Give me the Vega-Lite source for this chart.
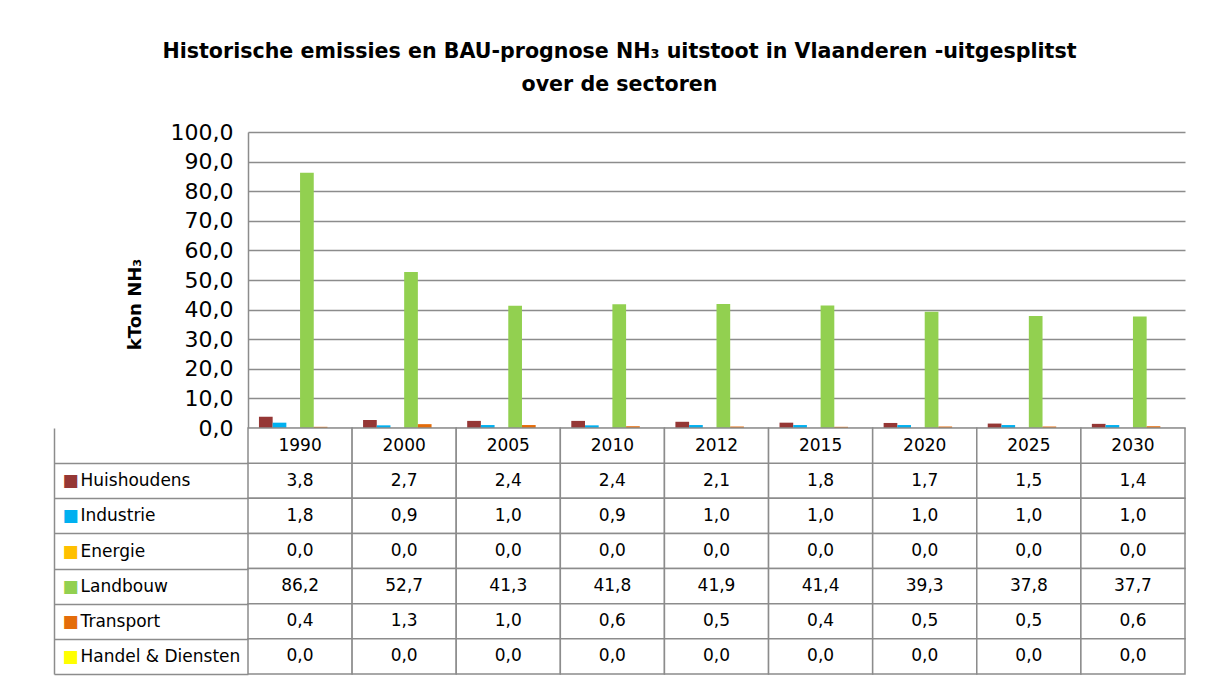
{
  "$schema": "https://vega.github.io/schema/vega-lite/v6.json",
  "padding": {"left": 53, "top": 42, "right": 15, "bottom": 3},
  "background": "white",
  "bounds": "flush",
  "config": {
    "locale": {"number": {"decimal": ",", "thousands": ".", "grouping": [3], "currency": ["€", ""]}},
    "font": "DejaVu Sans",
    "view": {"stroke": null},
    "concat": {"spacing": 0}
  },
  "title": {
    "text": ["Historische emissies en BAU-prognose NH₃ uitstoot in Vlaanderen -uitgesplitst", "over de sectoren"],
    "fontSize": 20.6, "fontWeight": "bold", "font": "DejaVu Sans", "color": "#000000",
    "anchor": "middle", "offset": 25, "lineHeight": 33
  },
  "data": {"values": [
    {"year": "1990", "sector": "Huishoudens", "value": 3.8},
    {"year": "2000", "sector": "Huishoudens", "value": 2.7},
    {"year": "2005", "sector": "Huishoudens", "value": 2.4},
    {"year": "2010", "sector": "Huishoudens", "value": 2.4},
    {"year": "2012", "sector": "Huishoudens", "value": 2.1},
    {"year": "2015", "sector": "Huishoudens", "value": 1.8},
    {"year": "2020", "sector": "Huishoudens", "value": 1.7},
    {"year": "2025", "sector": "Huishoudens", "value": 1.5},
    {"year": "2030", "sector": "Huishoudens", "value": 1.4},
    {"year": "1990", "sector": "Industrie", "value": 1.8},
    {"year": "2000", "sector": "Industrie", "value": 0.9},
    {"year": "2005", "sector": "Industrie", "value": 1.0},
    {"year": "2010", "sector": "Industrie", "value": 0.9},
    {"year": "2012", "sector": "Industrie", "value": 1.0},
    {"year": "2015", "sector": "Industrie", "value": 1.0},
    {"year": "2020", "sector": "Industrie", "value": 1.0},
    {"year": "2025", "sector": "Industrie", "value": 1.0},
    {"year": "2030", "sector": "Industrie", "value": 1.0},
    {"year": "1990", "sector": "Energie", "value": 0.0},
    {"year": "2000", "sector": "Energie", "value": 0.0},
    {"year": "2005", "sector": "Energie", "value": 0.0},
    {"year": "2010", "sector": "Energie", "value": 0.0},
    {"year": "2012", "sector": "Energie", "value": 0.0},
    {"year": "2015", "sector": "Energie", "value": 0.0},
    {"year": "2020", "sector": "Energie", "value": 0.0},
    {"year": "2025", "sector": "Energie", "value": 0.0},
    {"year": "2030", "sector": "Energie", "value": 0.0},
    {"year": "1990", "sector": "Landbouw", "value": 86.2},
    {"year": "2000", "sector": "Landbouw", "value": 52.7},
    {"year": "2005", "sector": "Landbouw", "value": 41.3},
    {"year": "2010", "sector": "Landbouw", "value": 41.8},
    {"year": "2012", "sector": "Landbouw", "value": 41.9},
    {"year": "2015", "sector": "Landbouw", "value": 41.4},
    {"year": "2020", "sector": "Landbouw", "value": 39.3},
    {"year": "2025", "sector": "Landbouw", "value": 37.8},
    {"year": "2030", "sector": "Landbouw", "value": 37.7},
    {"year": "1990", "sector": "Transport", "value": 0.4},
    {"year": "2000", "sector": "Transport", "value": 1.3},
    {"year": "2005", "sector": "Transport", "value": 1.0},
    {"year": "2010", "sector": "Transport", "value": 0.6},
    {"year": "2012", "sector": "Transport", "value": 0.5},
    {"year": "2015", "sector": "Transport", "value": 0.4},
    {"year": "2020", "sector": "Transport", "value": 0.5},
    {"year": "2025", "sector": "Transport", "value": 0.5},
    {"year": "2030", "sector": "Transport", "value": 0.6},
    {"year": "1990", "sector": "Handel & Diensten", "value": 0.0},
    {"year": "2000", "sector": "Handel & Diensten", "value": 0.0},
    {"year": "2005", "sector": "Handel & Diensten", "value": 0.0},
    {"year": "2010", "sector": "Handel & Diensten", "value": 0.0},
    {"year": "2012", "sector": "Handel & Diensten", "value": 0.0},
    {"year": "2015", "sector": "Handel & Diensten", "value": 0.0},
    {"year": "2020", "sector": "Handel & Diensten", "value": 0.0},
    {"year": "2025", "sector": "Handel & Diensten", "value": 0.0},
    {"year": "2030", "sector": "Handel & Diensten", "value": 0.0}
  ]},
  "vconcat": [
    {
      "width": 937,
      "height": 296,
      "mark": {"type": "bar"},
      "encoding": {
        "x": {"field": "year", "type": "nominal", "sort": null, "axis": null,
              "scale": {"paddingInner": 0, "paddingOuter": 0}},
        "xOffset": {"field": "sector", "type": "nominal",
                    "sort": ["Huishoudens", "Industrie", "Energie", "Landbouw", "Transport", "Handel & Diensten"],
                    "scale": {"paddingInner": 0, "paddingOuter": 0.8}},
        "y": {"field": "value", "type": "quantitative",
              "scale": {"domain": [0, 100], "nice": false},
              "axis": {"values": [0, 10, 20, 30, 40, 50, 60, 70, 80, 90, 100], "format": ".1f",
                       "title": "kTon NH₃", "titleFontSize": 18, "titleFontWeight": "bold", "titleColor": "#000000",
                       "titlePadding": 26, "titleFont": "DejaVu Sans", "titleY": 172,
                       "labelFontSize": 22, "labelColor": "#000000", "labelPadding": 15, "labelFont": "DejaVu Sans",
                       "ticks": false, "grid": true, "gridColor": "#8c8c8c", "gridWidth": 1.5,
                       "domain": true, "domainColor": "#8c8c8c", "domainWidth": 1.5}},
        "color": {"field": "sector", "type": "nominal",
                  "scale": {"domain": ["Huishoudens", "Industrie", "Energie", "Landbouw", "Transport", "Handel & Diensten"],
                            "range": ["#953735", "#00B0F0", "#FFC000", "#92D050", "#E46C0A", "#FFFF00"]},
                  "legend": null}
      }
    },
    {
      "width": 937,
      "height": 246,
      "layer": [
        {
          "layer": [
            {
              "mark": {"type": "rect", "fill": "white", "stroke": "#8c8c8c", "strokeWidth": 1.5},
              "encoding": {
                "x": {"field": "year", "type": "nominal", "sort": null, "axis": null,
                      "scale": {"paddingInner": 0, "paddingOuter": 0}},
                "y": {"field": "sector", "type": "nominal",
                      "scale": {"domain": ["Jaar", "Huishoudens", "Industrie", "Energie", "Landbouw", "Transport", "Handel & Diensten"],
                                "paddingInner": 0, "paddingOuter": 0},
                      "axis": {"orient": "left", "title": null, "domain": false,
                               "ticks": true, "tickSize": 194, "tickBand": "extent", "tickWidth": 1.5,
                               "tickColor": {"condition": {"test": "datum.extra", "value": "transparent"}, "value": "#8c8c8c"},
                               "labelAlign": "left", "labelPadding": -26, "labelFontSize": 17,
                               "labelColor": "#000000", "labelFont": "DejaVu Sans",
                               "labelExpr": "datum.value === 'Jaar' ? '' : datum.value"}}
              }
            },
            {
              "mark": {"type": "text", "fontSize": 17, "font": "DejaVu Sans", "color": "#000000"},
              "encoding": {
                "x": {"field": "year", "type": "nominal", "sort": null},
                "y": {"field": "sector", "type": "nominal"},
                "text": {"field": "value", "type": "quantitative", "format": ".1f"}
              }
            },
            {
              "transform": [{"filter": "datum.sector === 'Huishoudens'"}],
              "mark": {"type": "rect", "fill": "white", "stroke": "#8c8c8c", "strokeWidth": 1.5},
              "encoding": {
                "x": {"field": "year", "type": "nominal", "sort": null},
                "y": {"datum": "Jaar", "type": "nominal"}
              }
            },
            {
              "transform": [{"filter": "datum.sector === 'Huishoudens'"}],
              "mark": {"type": "text", "fontSize": 17, "font": "DejaVu Sans", "color": "#000000"},
              "encoding": {
                "x": {"field": "year", "type": "nominal", "sort": null},
                "y": {"datum": "Jaar", "type": "nominal"},
                "text": {"field": "year", "type": "nominal"}
              }
            }
          ]
        },
        {
          "mark": {"type": "point", "opacity": 0},
          "encoding": {
            "y": {"field": "sector", "type": "nominal",
                  "scale": {"domain": ["Jaar", "Huishoudens", "Industrie", "Energie", "Landbouw", "Transport", "Handel & Diensten"],
                            "paddingInner": 0, "paddingOuter": 0},
                  "axis": {"orient": "left", "offset": 194, "title": null,
                           "domain": true, "domainColor": "#8c8c8c", "domainWidth": 1.5,
                           "ticks": false, "labelAlign": "left", "labelPadding": -8,
                           "labelFontSize": 17, "labelFont": "DejaVu Sans",
                           "labelExpr": "datum.value === 'Jaar' ? '' : '■'",
                           "labelColor": {"condition": [
                             {"test": "datum.value === 'Huishoudens'", "value": "#953735"},
                             {"test": "datum.value === 'Industrie'", "value": "#00B0F0"},
                             {"test": "datum.value === 'Energie'", "value": "#FFC000"},
                             {"test": "datum.value === 'Landbouw'", "value": "#92D050"},
                             {"test": "datum.value === 'Transport'", "value": "#E46C0A"}
                           ], "value": "#FFFF00"}}}
          }
        }
      ],
      "resolve": {"scale": {"y": "independent"}, "axis": {"y": "independent"}}
    }
  ]
}
